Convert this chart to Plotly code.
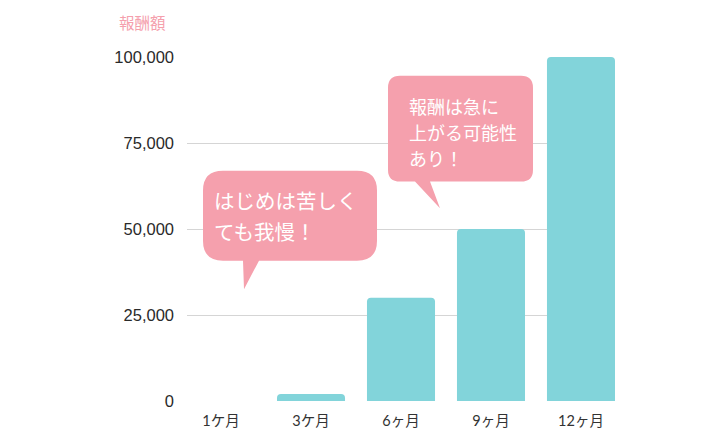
import plotly.graph_objects as go

categories = ["1ケ月", "3ケ月", "6ヶ月", "9ヶ月", "12ヶ月"]
values = [0, 2000, 30000, 50000, 100000]
y_ticks = [0, 25000, 50000, 75000, 100000]
y_tick_labels = ["0", "25,000", "50,000", "75,000", "100,000"]
axis_title = "報酬額"
bubble1_lines = ["はじめは苦しく", "ても我慢！"]
bubble2_lines = ["報酬は急に", "上がる可能性", "あり！"]

# page offset (body margin) of 8px
OFF = 8
W, H = 728 - OFF, 441 - OFF
L, R, T, B = 187, 615, 57, 405  # plot area in screenshot pixels
PINK = "#F5A0AD"
TEAL = "#82D4DA"


def px(x):
    return (x - L) / (R - L)


def py(y):
    return (B - y) / (B - T)


def bubble(x0, y0, x1, y1, r, tail):
    (ta, tb, tip) = tail
    def P(x, y):
        return f"{px(x):.5f},{py(y):.5f}"
    d = f"M {P(x0 + r, y0)} L {P(x1 - r, y0)} Q {P(x1, y0)} {P(x1, y0 + r)} "
    d += f"L {P(x1, y1 - r)} Q {P(x1, y1)} {P(x1 - r, y1)} "
    d += f"L {P(tb, y1)} L {P(tip[0], tip[1])} L {P(ta, y1)} "
    d += f"L {P(x0 + r, y1)} Q {P(x0, y1)} {P(x0, y1 - r)} "
    d += f"L {P(x0, y0 + r)} Q {P(x0, y0)} {P(x0 + r, y0)} Z"
    return dict(type="path", xref="paper", yref="paper", path=d,
                fillcolor=PINK, line=dict(width=0), layer="above")


def text_lines(lines, x, y_first, step, size):
    out = []
    for i, t in enumerate(lines):
        out.append(dict(xref="paper", yref="paper", x=px(x), y=py(y_first + i * step),
                        xanchor="left", yanchor="middle", text=t, showarrow=False,
                        font=dict(size=size, color="white", family="'Noto Sans CJK JP'")))
    return out


fig = go.Figure(go.Bar(
    x=list(range(len(categories))), y=values,
    marker=dict(color=TEAL, line=dict(width=0), cornerradius=4),
    width=0.756, hoverinfo="skip",
))

fig.update_layout(
    width=W, height=H,
    margin=dict(l=L - OFF, r=W - (R - OFF), t=T - OFF, b=H - (B - OFF), pad=0),
    paper_bgcolor="white", plot_bgcolor="white",
    showlegend=False,
    font=dict(family="Lato, 'Noto Sans CJK JP', sans-serif", color="#333333", size=15),
    xaxis=dict(range=[-0.378, 4.378], tickmode="array",
               tickvals=list(range(len(categories))), ticktext=categories,
               showgrid=False, zeroline=False, showline=False, ticks="",
               ticklabelstandoff=9,
               tickfont=dict(size=14.5, family="Lato, 'Noto Sans CJK JP'", color="#333333")),
    yaxis=dict(range=[0, 100000], tickmode="array", tickvals=y_ticks,
               ticktext=y_tick_labels, showgrid=True, gridcolor="#D5D5D5",
               gridwidth=1, zeroline=False, showline=False, ticks="",
               ticklabelstandoff=12,
               tickfont=dict(size=16.5, family="'Liberation Sans', Arial", color="#2a2a2a")),
    shapes=[
        bubble(203, 172, 377, 263, 20, (243, 259, (244, 292))),
        bubble(388, 76, 533, 183, 12, (415, 430, (440, 210))),
    ],
    annotations=[
        dict(xref="paper", yref="paper", x=px(117), y=py(22), xanchor="left",
             yanchor="middle", text=axis_title, showarrow=False,
             font=dict(size=15.5, color=PINK, family="'Noto Sans CJK JP'")),
    ] + text_lines(bubble1_lines, 212, 202, 31, 20.5)
      + text_lines(bubble2_lines, 407, 107, 26, 18),
)

fig.write_html("out.html")
